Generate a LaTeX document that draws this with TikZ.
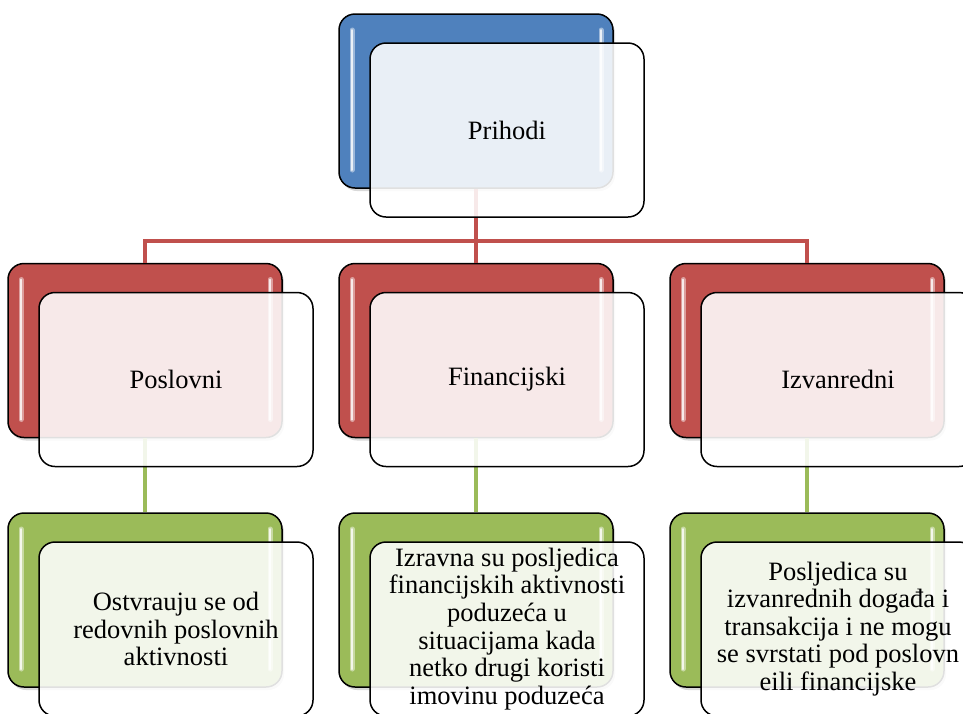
\documentclass[tikz,border=0pt]{standalone}
\usepackage{fontspec}
\setmainfont{Liberation Serif}
\usetikzlibrary{shapes,arrows,shadows}

\definecolor{plava}{HTML}{4F81BD}
\definecolor{crvena}{HTML}{C0504D}
\definecolor{zelena}{HTML}{9BBB59}

\tikzset{
	backbox/.style = {draw=black, line width=1.5pt, rounded corners=16pt,
		minimum width=274pt, minimum height=174pt, inner sep=0pt,
		drop shadow={opacity=.3, shadow xshift=2pt, shadow yshift=-3pt},
		path picture={
			\draw[white, opacity=.45, line width=5pt, line cap=round]
				([shift={(13pt,-16pt)}]path picture bounding box.north west) -- ([shift={(13pt,18pt)}]path picture bounding box.south west)
				([shift={(-12pt,-16pt)}]path picture bounding box.north east) -- ([shift={(-12pt,18pt)}]path picture bounding box.south east);
			\draw[white, opacity=.8, line width=2pt, line cap=round]
				([shift={(13pt,-16pt)}]path picture bounding box.north west) -- ([shift={(13pt,18pt)}]path picture bounding box.south west)
				([shift={(-12pt,-16pt)}]path picture bounding box.north east) -- ([shift={(-12pt,18pt)}]path picture bounding box.south east);
		}},
	frontbox/.style = {draw=black, line width=1.5pt, rounded corners=16pt,
		fill=white, fill opacity=.88, text opacity=1,
		minimum width=274pt, minimum height=174pt, inner sep=2pt,
		align=center, font=\fontsize{26.5}{27.6}\selectfont}
}

\begin{document}
\begin{tikzpicture}
		[x=1pt, y=-1pt,
		level distance = 249.5pt,
		level 1/.style = {sibling distance = 331pt,
			edge from parent/.style = {draw=crvena, line width=4pt},
			edge from parent path = {(\tikzparentnode.south) -- ++(0pt,-52pt) -| (\tikzchildnode.north)}},
		level 2/.style = {
			edge from parent/.style = {draw=zelena, line width=4pt},
			edge from parent path = {(\tikzparentnode.south) -- (\tikzchildnode.north)}}
		]
		
		\useasboundingbox (0,0) rectangle (963,713);
		\clip (0,0) rectangle (963,713);
		
		\node[backbox, fill=plava] (prihodi) at (476,101) {}
		child {
			node[backbox, fill=crvena] (poslovni) {}
			child {
				node[backbox, fill=zelena] (opis1) {}
			}
		}
		child {
			node[backbox, fill=crvena] (financijski) {}
			child {
				node[backbox, fill=zelena] (opis2) {}
			}
		}
		child {
			node[backbox, fill=crvena] (izvanredni) {}
			child {
				node[backbox, fill=zelena] (opis3) {}
			}
		};
		
		\node[frontbox] (prihodi-t) at ([shift={(31,29)}]prihodi) {Prihodi};
		\node[frontbox] (poslovni-t) at ([shift={(31,29)}]poslovni) {Poslovni};
		\node[frontbox] (financijski-t) at ([shift={(31,29)}]financijski) {Financijski};
		\node[frontbox] (izvanredni-t) at ([shift={(31,29)}]izvanredni) {Izvanredni};
		\node[frontbox] (opis1-t) at ([shift={(31,29)}]opis1) {Ostvrauju se od\\ redovnih poslovnih\\ aktivnosti};
		\node[frontbox] (opis2-t) at ([shift={(31,29)}]opis2) {Izravna su posljedica\\ financijskih aktivnosti\\ poduzeća u\\ situacijama kada\\ netko drugi koristi\\ imovinu poduzeća};
		\node[frontbox] (opis3-t) at ([shift={(31,29)}]opis3) {Posljedica su\\ izvanrednih događa i\\ transakcija i ne mogu\\ se svrstati pod poslovn\\ eili financijske};
		
\end{tikzpicture}
\end{document}
